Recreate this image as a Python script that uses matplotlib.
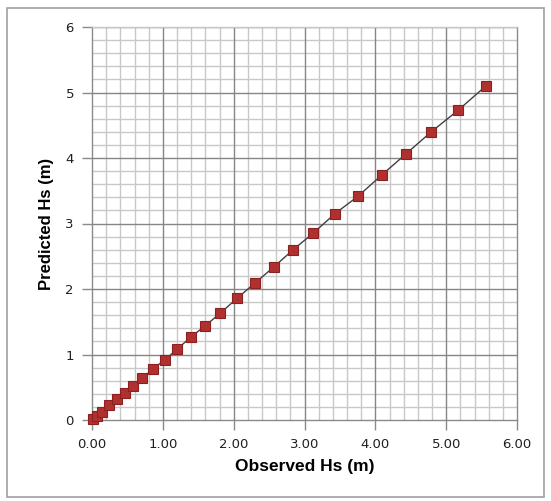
import matplotlib
matplotlib.use("Agg")
import matplotlib.pyplot as plt
from matplotlib.patches import Rectangle
import numpy as np

# observed vs predicted significant wave height (m)
observed = [0.01, 0.07, 0.14, 0.24, 0.35, 0.47, 0.58, 0.71, 0.86, 1.03,
            1.20, 1.40, 1.60, 1.81, 2.05, 2.30, 2.57, 2.84, 3.12, 3.43,
            3.76, 4.09, 4.43, 4.79, 5.17, 5.56]
predicted = [0.01, 0.06, 0.12, 0.23, 0.32, 0.41, 0.52, 0.64, 0.78, 0.92,
             1.08, 1.27, 1.44, 1.63, 1.86, 2.09, 2.34, 2.60, 2.85, 3.15,
             3.42, 3.74, 4.06, 4.40, 4.73, 5.10]
xticks = [0, 1, 2, 3, 4, 5, 6]
yticks = [0, 1, 2, 3, 4, 5, 6]

W, H = 551, 501
fig = plt.figure(figsize=(W / 100, H / 100), dpi=100)
fig.patches.append(Rectangle((7 / W, 1 - 497 / H), 537 / W, 489 / H,
                             transform=fig.transFigure, fill=False,
                             edgecolor="#a0a0a0", lw=1.2))

ax = fig.add_axes([92 / W, 1 - 420 / H, 425 / W, 393 / H])
ax.set_xlim(0, 6)
ax.set_ylim(0, 6)

# grid: light minor every 0.2, darker major every 1
for v in np.arange(0.2, 6.0, 0.2):
    if abs(v - round(v)) > 1e-6:
        ax.axvline(v, color="#c8c8c8", lw=1.0, zorder=0)
        ax.axhline(v, color="#c8c8c8", lw=1.0, zorder=0)
for v in xticks[1:-1]:
    ax.axvline(v, color="#858585", lw=1.0, zorder=0.5)
for v in yticks[1:]:
    ax.axhline(v, color="#858585", lw=1.0, zorder=0.5)

ax.plot(observed, predicted, "-", color="#404040", lw=1.0, zorder=2)
ax.plot(observed, predicted, "s", ms=6.5, mfc="#b03030", mec="#8a2020",
        mew=0.8, zorder=3, clip_on=False)

ax.set_xticks(xticks)
ax.set_xticklabels(["%.2f" % v for v in xticks])
ax.set_yticks(yticks)
ax.set_yticklabels([str(v) for v in yticks])
ax.tick_params(direction="out", length=7, width=1, color="#8a8a8a",
               labelsize=9.5, pad=6, labelcolor="#202020")
for lab in ax.get_xticklabels() + ax.get_yticklabels():
    lab.set_family("DejaVu Sans")

for s in ax.spines.values():
    s.set_color("#8a8a8a")
    s.set_linewidth(1.0)
ax.spines["top"].set_color("#c8c8c8")

ax.set_xlabel("Observed Hs (m)", family="Liberation Sans", fontweight="bold",
              fontsize=12.5, labelpad=6)
ax.set_ylabel("Predicted Hs (m)", family="Liberation Sans", fontweight="bold",
              fontsize=12, labelpad=8)

fig.savefig("out.png", dpi=100)
